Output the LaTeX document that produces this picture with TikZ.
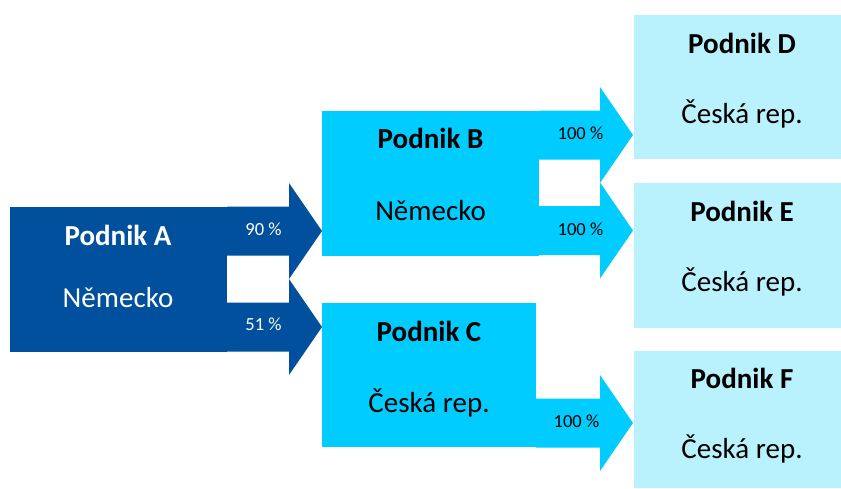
\documentclass[tikz,border=0pt]{standalone}
\usepackage{fontspec}
\setmainfont{Carlito}
\usetikzlibrary{calc}
\definecolor{adark}{RGB}{0,80,158}
\definecolor{acyan}{RGB}{0,204,255}
\definecolor{alight}{RGB}{185,241,253}
\newcommand\bArrow[3]{\fill[#1] let \p1=(#2), \p2=(#3) in
  (\x1,\y2+24.5pt) -- (\x2-33pt,\y2+24.5pt) -- (\x2-33pt,\y2+48pt) -- (\x2,\y2)
  -- (\x2-33pt,\y2-48pt) -- (\x2-33pt,\y2-24.5pt) -- (\x1,\y2-24.5pt) -- cycle;}
\tikzset{
  box/.style={rectangle, inner sep=0pt, outer sep=0pt, anchor=north west, draw=none},
  title/.style={anchor=base, inner sep=0pt, font=\fontsize{29}{31}\selectfont\bfseries},
  sub/.style={anchor=base, inner sep=0pt, font=\fontsize{29}{31}\selectfont},
  pct/.style={anchor=base, inner sep=0pt, font=\fontsize{18.5}{20}\selectfont},
}
\begin{document}
\begin{tikzpicture}[x=1pt,y=-1pt]
\useasboundingbox (0,0) rectangle (841,488);
% boxes
\node[box, fill=adark, minimum width=217pt, minimum height=145pt] (A) at (10,207) {};
\node[box, fill=acyan, minimum width=217pt, minimum height=145pt] (B) at (322,111) {};
\node[box, fill=acyan, minimum width=214pt, minimum height=144pt] (C) at (322,303) {};
\node[box, fill=alight, minimum width=207pt, minimum height=144pt] (D) at (634,15) {};
\node[box, fill=alight, minimum width=207pt, minimum height=145pt] (E) at (634,183) {};
\node[box, fill=alight, minimum width=207pt, minimum height=137pt] (F) at (634,351) {};
% arrow tips
\coordinate (tAB) at (322,231);
\coordinate (tAC) at (322,327);
\coordinate (tBD) at (633,135);
\coordinate (tBE) at (633,230.5);
\coordinate (tCF) at (633,423);
% block arrows
\bArrow{adark}{A.east}{tAB}
\bArrow{adark}{A.east}{tAC}
\bArrow{acyan}{B.east}{tBD}
\bArrow{acyan}{B.east}{tBE}
\bArrow{acyan}{C.east}{tCF}
% texts
\node[title, text=white] (A1) at (118,245) {Podnik A};
\node[sub, text=white] (A2) at (118,307) {Německo};
\node[title] (B1) at (430.5,148) {Podnik B};
\node[sub] (B2) at (430.5,220) {Německo};
\node[title] (C1) at (429,341) {Podnik C};
\node[sub] (C2) at (429,412) {Česká rep.};
\node[title] (D1) at (742,53) {Podnik D};
\node[sub] (D2) at (742,123) {Česká rep.};
\node[title] (E1) at (742,221) {Podnik E};
\node[sub] (E2) at (742,291) {Česká rep.};
\node[title] (F1) at (742,388) {Podnik F};
\node[sub] (F2) at (742,458) {Česká rep.};
% percentages
\node[pct, text=white] (pAB) at (263.5,235) {90 \%};
\node[pct, text=white] (pAC) at (263.5,330) {51 \%};
\node[pct] (pBD) at (580.5,139) {100 \%};
\node[pct] (pBE) at (580.5,235) {100 \%};
\node[pct] (pCF) at (576.5,427) {100 \%};
\end{tikzpicture}
\end{document}
